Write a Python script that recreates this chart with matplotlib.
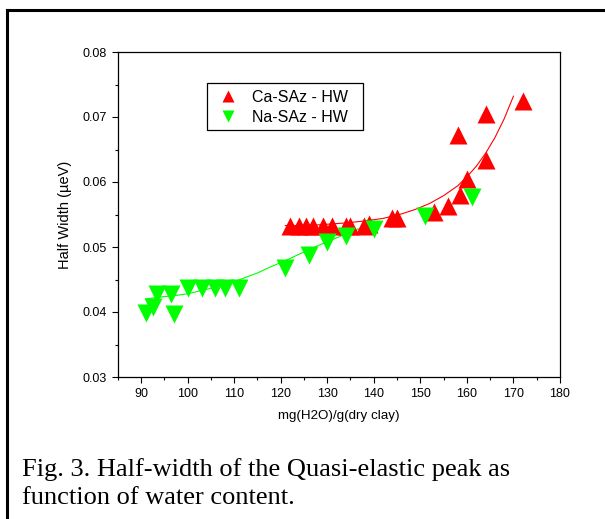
import matplotlib
matplotlib.use("Agg")
import matplotlib.pyplot as plt
from matplotlib.lines import Line2D
from matplotlib.patches import Rectangle
from matplotlib.ticker import MultipleLocator, FormatStrFormatter

# ---- data ----
ca_x = [122, 124, 125.5, 127, 129, 131, 134, 135, 138, 139, 144, 145,
        153, 156, 158, 158.5, 160, 164, 164, 172]
ca_y = [0.0533, 0.0533, 0.0533, 0.0533, 0.0533, 0.0533, 0.0533, 0.0533,
        0.0533, 0.0535, 0.0545, 0.0545, 0.0554, 0.0563, 0.0672, 0.0580,
        0.0604, 0.0634, 0.0704, 0.0724]

na_x = [91, 92.5, 93.5, 96.5, 97, 100, 103, 106, 108, 111,
        121, 126, 130, 134, 140, 151, 161]
na_y = [0.0398, 0.0407, 0.0428, 0.0428, 0.0397, 0.0437, 0.0437, 0.0437,
        0.0437, 0.0437, 0.0468, 0.0487, 0.0507, 0.0517, 0.0528, 0.0547, 0.0577]

ca_fit_x = [121, 126, 130, 134, 138, 142, 146, 149, 152, 155, 158, 160,
            162, 164, 166, 168, 170]
ca_fit_y = [0.0533, 0.0533, 0.0535, 0.0537, 0.0540, 0.0544, 0.0551, 0.0558,
            0.0567, 0.0579, 0.0594, 0.0608, 0.0624, 0.0644, 0.0668, 0.0697,
            0.0732]

na_fit_x = [91, 94, 97, 100, 103, 106, 109, 112, 115, 118, 121, 124, 127,
            130, 133, 136, 140]
na_fit_y = [0.0420, 0.0423, 0.0425, 0.0428, 0.0433, 0.0438, 0.0444, 0.0452,
            0.0460, 0.0470, 0.0479, 0.0489, 0.0499, 0.0508, 0.0517, 0.0526,
            0.0536]

ca_label = "Ca-SAz - HW"
na_label = "Na-SAz - HW"
x_label = "mg(H2O)/g(dry clay)"
y_label = "Half Width (\u00b5eV)"
caption_lines = ["Fig. 3. Half-width of the Quasi-elastic peak as",
                 "function of water content."]

RED = "#ff0000"
GREEN = "#00ff00"

plt.rcParams['font.family'] = ['Liberation Sans', 'DejaVu Sans']

W, H = 605, 519
fig = plt.figure(figsize=(W / 100, H / 100), dpi=100)
ax = fig.add_axes([117.7 / W, 1 - 377 / H, 442.3 / W, 325 / H])

ax.plot(ca_fit_x, ca_fit_y, color=RED, lw=0.8, zorder=2)
ax.plot(na_fit_x, na_fit_y, color=GREEN, lw=0.8, zorder=2)
ax.plot(ca_x, ca_y, linestyle='none', marker='^', ms=13, color=RED,
        mec='none', label=ca_label, zorder=3)
ax.plot(na_x, na_y, linestyle='none', marker='v', ms=13, color=GREEN,
        mec='none', label=na_label, zorder=3)

ax.set_xlim(85, 180)
ax.set_ylim(0.03, 0.08)
ax.set_xticks([90, 100, 110, 120, 130, 140, 150, 160, 170, 180])
ax.xaxis.set_minor_locator(MultipleLocator(5))
ax.yaxis.set_major_locator(MultipleLocator(0.01))
ax.yaxis.set_minor_locator(MultipleLocator(0.005))
ax.yaxis.set_major_formatter(FormatStrFormatter('%.2f'))
ax.tick_params(which='major', direction='out', length=4, width=0.8,
               labelsize=9, pad=4, top=False, right=False)
ax.tick_params(which='minor', direction='out', length=2.5, width=0.8,
               top=False, right=False)
for s in ax.spines.values():
    s.set_linewidth(0.9)

ax.set_xlabel(x_label, fontsize=9.6, labelpad=7)
ax.set_ylabel(y_label, fontsize=10.5, labelpad=7)

# legend box drawn at its place in the reference
bx0, bx1 = (206.7 - 117.7) / 442.3, (362.7 - 117.7) / 442.3
by0, by1 = (377 - 130) / 325, (377 - 83.3) / 325
ax.add_patch(Rectangle((bx0, by0), bx1 - bx0, by1 - by0, transform=ax.transAxes,
                       facecolor='white', edgecolor='black', lw=0.9, zorder=5))
leg = ax.legend(loc='upper left', bbox_to_anchor=(bx0 + 0.004, by1 + 0.002),
                borderaxespad=0, fontsize=11.5, markerscale=0.65,
                frameon=False, handlelength=1.5, handletextpad=0.8,
                borderpad=0.45, labelspacing=0.3, numpoints=1)
leg.set_zorder(6)

for i, line in enumerate(caption_lines):
    fig.text(22 / W, 1 - (476 + 28.5 * i) / H, line,
             family=['Liberation Serif', 'DejaVu Serif'],
             fontsize=19, va='baseline', ha='left')

# figure frame (left and top edges)
fig.add_artist(Line2D([6.5 / W, 6.5 / W], [0, 1 - 10 / H], color='black',
                      lw=2.2, transform=fig.transFigure))
fig.add_artist(Line2D([6.5 / W, 1], [1 - 10 / H, 1 - 10 / H], color='black',
                      lw=2.2, transform=fig.transFigure))

fig.savefig("out.png", dpi=100)
